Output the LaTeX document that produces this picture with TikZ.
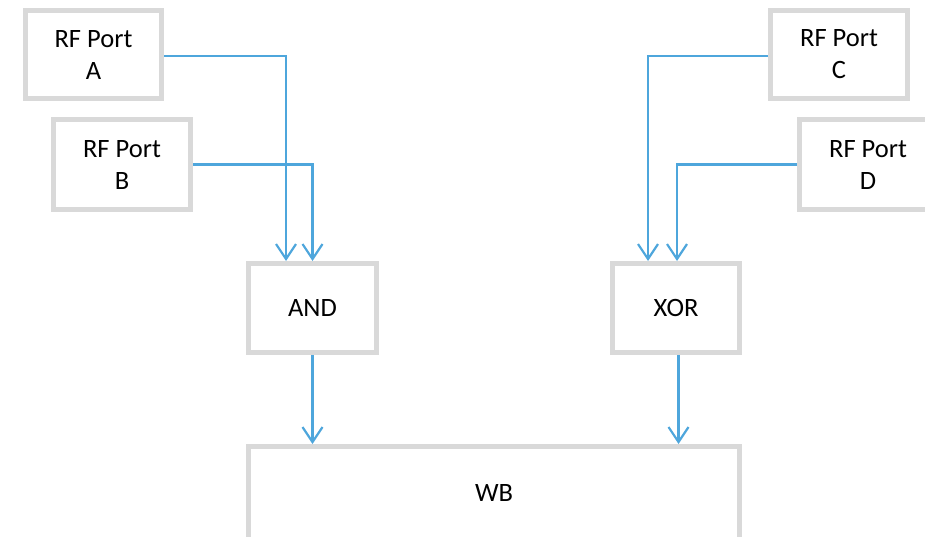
\documentclass[tikz,border=0pt]{standalone}
\usepackage{fontspec}
\setmainfont{Carlito}
\usetikzlibrary{arrows.meta}
\definecolor{boxgray}{HTML}{D9D9D9}
\definecolor{wireblue}{HTML}{4EA6DC}
\tikzset{
  block/.style={draw=boxgray, line width=5pt, fill=white, align=center,
    inner sep=0pt, font=\fontsize{26.5}{32}\selectfont},
  wire/.style={draw=wireblue, line width=2.2pt,
    -{Straight Barb[length=15pt,width=20pt]}}
}
\begin{document}
\begin{tikzpicture}[x=1pt,y=-1pt]
  \useasboundingbox (0,0) rectangle (925,536);
  \begin{scope}
    \clip (0,0) rectangle (925,536);
    % input ports
    \node[block, minimum width=136pt, minimum height=88pt] (pa) at (93.5,54.5) {RF Port\\A};
    \node[block, minimum width=137pt, minimum height=90pt] (pb) at (122,164.5) {RF Port\\B};
    \node[block, minimum width=137pt, minimum height=88pt] (pc) at (839,54.5) {RF Port\\C};
    \node[block, minimum width=137pt, minimum height=90pt] (pd) at (868,164.5) {RF Port\\D};
    % logic gates
    \node[block, minimum width=128pt, minimum height=89pt] (and) at (312.5,308) {AND};
    \node[block, minimum width=127pt, minimum height=89pt] (xor) at (676,308) {XOR};
    % output block
    \node[block, minimum width=491pt, minimum height=93pt] (wb) at (494,493) {WB};
    % guide points on the gate tops
    \coordinate (andL) at ([xshift=-26.5pt]and.north);
    \coordinate (xorL) at ([xshift=-28pt]xor.north);
    \coordinate (xorR) at ([xshift=1pt]xor.north);
    \coordinate (xorB) at ([xshift=2.5pt]xor.south);
    % port wiring
    \draw[wire] ([yshift=-1.5pt]pa.east) -| (andL);
    \draw[wire] (pb.east) -| (and.north);
    \draw[wire] ([yshift=-1.5pt]pc.west) -| (xorL);
    \draw[wire] (pd.west) -| (xorR);
    % gate outputs
    \draw[wire] (and.south) -- (and.south |- wb.north);
    \draw[wire] (xorB) -- (xorB |- wb.north);
  \end{scope}
\end{tikzpicture}
\end{document}
